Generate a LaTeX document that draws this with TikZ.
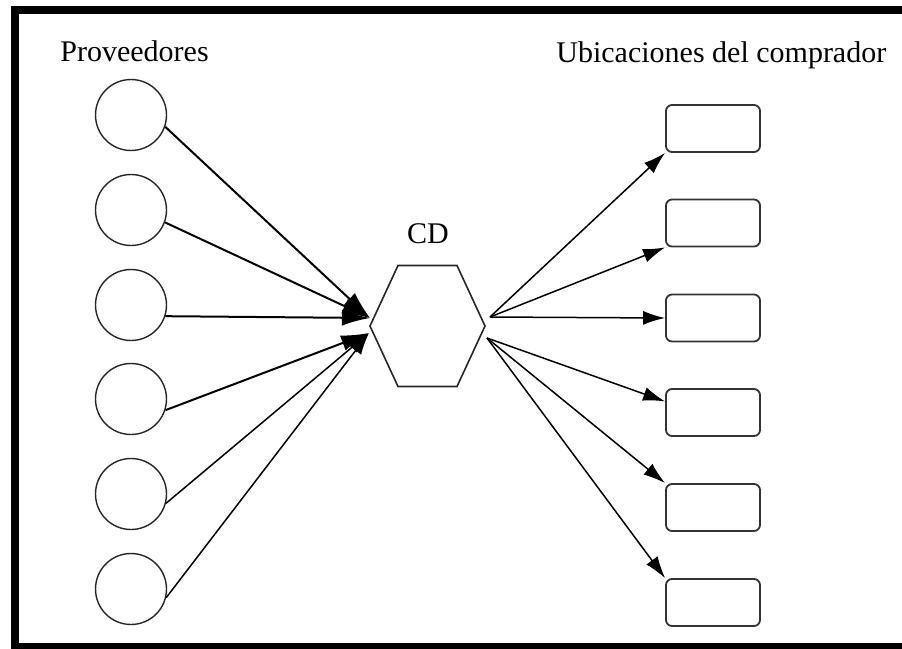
\documentclass[tikz,border=0pt]{standalone}
\usepackage{fontspec}
\setmainfont{Liberation Serif}
\usepackage{tikz}
\usetikzlibrary{arrows.meta}
\tikzset{>={Latex[length=11pt, width=7pt]}}
\tikzset{prov/.style={draw=black!85, line width=0.7pt, circle, minimum size=35.5pt, inner sep=0pt},
    ubic/.style={draw=black!80, line width=0.9pt, rectangle, rounded corners=3pt, minimum width=47pt, minimum height=23.5pt, inner sep=0pt},
    grueso/.style={line width=1pt, -{Latex[length=14pt, width=8pt]}},
    fino/.style={line width=0.75pt, ->}}

\begin{document}
\begin{tikzpicture}[x=0.5pt, y=-0.5pt, font=\fontsize{15}{18}\selectfont]
    \clip(0, 0)rectangle(902, 649);
    \useasboundingbox(0, 0)rectangle(902, 649);
    \draw[line width=4pt](920, 10)--(15, 10)--(15, 647)--(920, 647);
    % textos
    \node[anchor=base west, inner sep=0pt](tP)at(60, 61){Proveedores};
    \node[anchor=base west, inner sep=0pt](tU)at(556, 62){Ubicaciones del comprador};
    % proveedores
    \node[prov](p1)at(131, 115){};
    \node[prov](p2)at(131, 210){};
    \node[prov](p3)at(131, 305){};
    \node[prov](p4)at(131, 399){};
    \node[prov](p5)at(131, 494){};
    \node[prov](p6)at(131, 589){};
    % ubicaciones del comprador
    \node[ubic](u1)at(713, 128.5){};
    \node[ubic](u2)at(713, 223){};
    \node[ubic](u3)at(713, 318){};
    \node[ubic](u4)at(713, 412.5){};
    \node[ubic](u5)at(713, 507.5){};
    \node[ubic](u6)at(713, 602.5){};
    % CD
    \coordinate(cd)at(427.5, 326);
    \draw[line width=0.8pt, black!85]([shift={(-57.5, 0)}]cd)--([shift={(-29.5, -60.5)}]cd)--([shift={(29.5, -60.5)}]cd)
        --([shift={(57.5, 0)}]cd)--([shift={(29.5, 60.5)}]cd)--([shift={(-29.5, 60.5)}]cd)--cycle;
    \node[anchor=base, inner sep=0pt](tCD)at(428, 243){CD};
    \coordinate(inT)at(370, 318);
    \coordinate(inB)at(369, 333);
    \coordinate(outT)at(490, 317);
    \coordinate(outB)at(487, 338);
    % flechas de entrada
    \draw[grueso](p1.-19)--(inT);
    \draw[grueso](p2.-20)--(inT);
    \draw[grueso](p3.-18)--(inT);
    \draw[grueso](p4.-18)--(inB);
    \draw[fino](p5.-15)--(inB);
    \draw[fino](p6.-14)--(inB);
    % flechas de salida
    \draw[fino](outT)--(u1.south west);
    \draw[fino](outT)--(u2.south west);
    \draw[fino](outT)--(u3.west);
    \draw[fino](outB)--(u4.167);
    \draw[fino](outB)--(u5.north west);
    \draw[fino](outB)--(u6.north west);
\end{tikzpicture}
\end{document}
